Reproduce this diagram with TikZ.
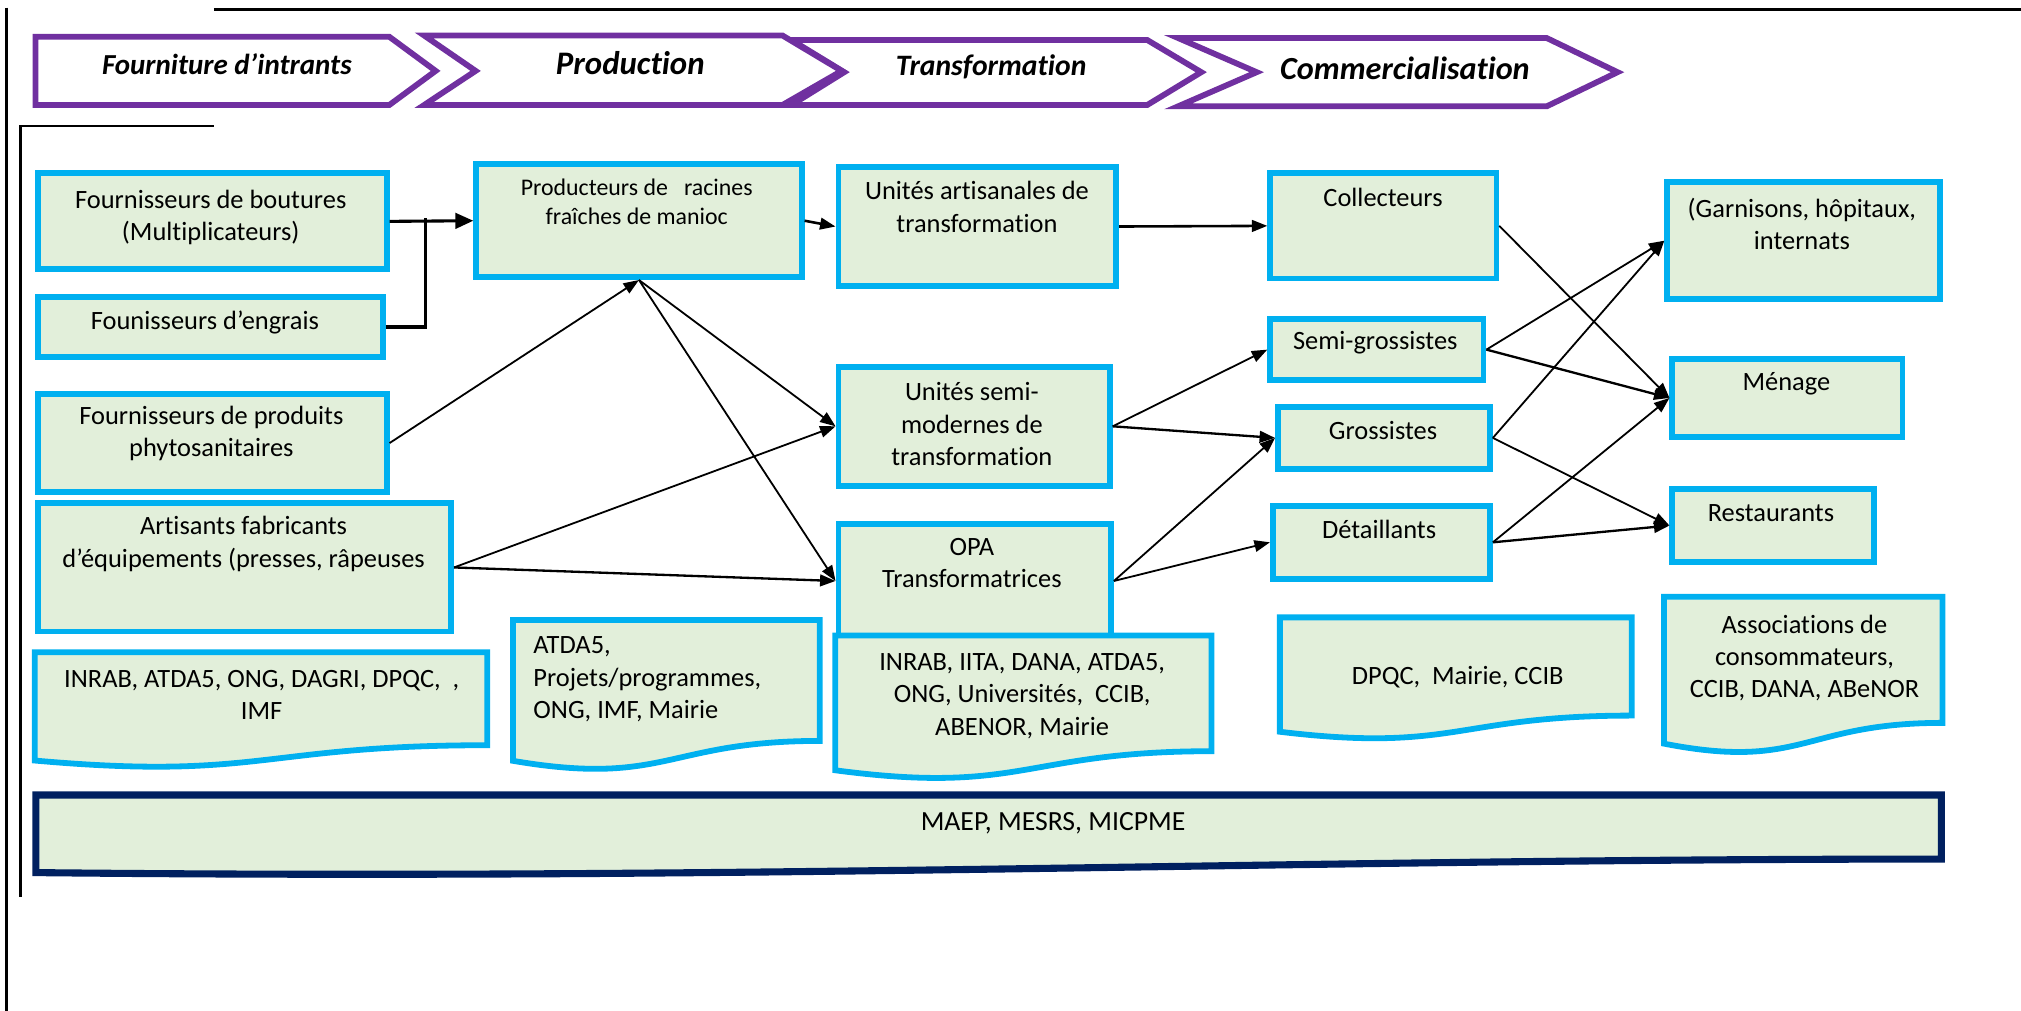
\documentclass[tikz,border=0pt]{standalone}
\usepackage{fontspec}
\setmainfont{Carlito}[RawFeature={-liga;-clig;-calt}]
\usetikzlibrary{arrows.meta}
\definecolor{cyanb}{HTML}{00B0F0}
\definecolor{greenf}{HTML}{E2EFDA}
\definecolor{purp}{HTML}{7030A0}
\definecolor{navyb}{HTML}{002060}
\newcommand\bx[5]{\node[box,anchor=north west,minimum width={(#4-#2-4.5)*1pt},minimum height={(#5-#3-4.5)*1pt}] (#1) at ({#2+2.25},{#3+2.25}) {};}
\newcommand\docsh[5]{\draw[#1] (#2,#4) -- (#3,#4) -- (#3,{#4+0.802*#5}) .. controls ({(#2+#3)/2},{#4+0.802*#5}) and ({(#2+#3)/2},{#4+1.107*#5}) .. (#2,{#4+0.934*#5}) -- cycle;}
\begin{document}
\begin{tikzpicture}[x=1pt,y=-1pt,
 box/.style={draw=cyanb,fill=greenf,line width=4.5pt,inner sep=0pt},
 docbox/.style={draw=cyanb,fill=greenf,line width=4.5pt},
 txt/.style={align=center,font=\fontsize{20.5}{25}\selectfont,inner sep=0pt},
 arr/.style={line width=1.4pt,-{Triangle[length=12pt,width=9pt]}},
 chev/.style={draw=purp,fill=white,line width=4.5pt,line join=miter},
 chevt/.style={inner sep=0pt},
 frame/.style={line width=2pt,black}]
\useasboundingbox (0,0) rectangle (1568,784);
% frames
\draw[frame] (166,7.2) -- (1568,7.2);
\draw[frame,line width=2.8pt] (5,6) -- (5,784);
\draw[frame,line width=1.8pt] (16,98) -- (166,98);
\draw[frame,line width=2.2pt] (16,97) -- (16,696);
% chevrons
\draw[chev] (614,31) -- (890,31) -- (932,56) -- (890,81.5) -- (614,81.5) -- (655,56) -- cycle;
\draw[chev] (27.5,28.5) -- (302,28.5) -- (338,55) -- (302,81.5) -- (27.5,81.5) -- cycle;
\draw[chev] (329,27.5) -- (607,27.5) -- (653,55) -- (607,81.5) -- (329,81.5) -- (369,55) -- cycle;
\draw[chev] (914,29.5) -- (1200,29.5) -- (1255,56) -- (1200,82.5) -- (914,82.5) -- (975,56) -- cycle;
\node[chevt,font=\fontsize{22.5}{27}\selectfont\bfseries\itshape] (h1) at (176,50) {Fourniture d’intrants};
\node[chevt,font=\fontsize{25.5}{27}\selectfont\bfseries\itshape] (h2) at (489,49) {Production};
\node[chevt,font=\fontsize{23}{27}\selectfont\bfseries\itshape] (h3) at (769,52) {Transformation};
\node[chevt,font=\fontsize{25}{27}\selectfont\bfseries\itshape] (h4) at (1090,53) {Commercialisation};
% boxes
\bx{b1}{25}{130}{300}{209}
\bx{b2}{25}{226}{297}{277}
\bx{b3}{25}{301}{300}{382}
\bx{b4}{25}{386}{350}{490}
\bx{p}{365}{123}{622}{215}
\bx{u1}{646}{125}{866}{222}
\bx{u2}{646}{280}{861}{377}
\bx{opa}{646}{402}{862}{495}
\bx{c}{981}{130}{1161}{216}
\bx{sg}{981}{243}{1151}{295}
\bx{gr}{987}{311}{1156}{364}
\bx{d}{983}{388}{1156}{449}
\bx{g1}{1289}{137}{1505}{232}
\bx{m}{1293}{274}{1476}{339}
\bx{r}{1293}{375}{1454}{436}
\node[txt] (b1t) at (163.5,169) {Fournisseurs de boutures\\(Multiplicateurs)};
\node[txt] (b2t) at (159,250) {Founisseurs d’engrais};
\node[txt] (b3t) at (164,336) {Fournisseurs de produits\\phytosanitaires};
\node[txt] (b4t) at (189,422) {Artisants fabricants\\d'équipements (presses, râpeuses};
\node[txt,font=\fontsize{18.5}{23}\selectfont] (pt) at (494,156.5) {Producteurs de\ \ \ racines\\fraîches de manioc};
\node[txt] (u1t) at (758,160.5) {Unités artisanales de\\transformation};
\node[txt] (u2t) at (754,329) {Unités semi-\\modernes de\\transformation};
\node[txt] (opat) at (754,437) {OPA\\Transformatrices};
\node[txt] (ct) at (1073,153) {Collecteurs};
\node[txt] (sgt) at (1067,266) {Semi-grossistes};
\node[txt] (grt) at (1073,334) {Grossistes};
\node[txt] (dt) at (1070,410.5) {Détaillants};
\node[txt] (g1t) at (1398,174) {(Garnisons, hôpitaux,\\internats};
\node[txt] (mt) at (1386,298) {Ménage};
\node[txt] (rt) at (1374,398) {Restaurants};
% documents
\docsh{docbox}{27}{378}{506}{90}
\docsh{docbox}{398}{636}{481}{117}
\docsh{docbox}{648}{940}{493}{112}
\docsh{docbox}{993}{1266}{479}{95}
\docsh{docbox}{1291}{1507}{463}{122}
\draw[draw=navyb,fill=greenf,line width=5.5pt] (27.8,616.8) -- (1506.2,616.8) -- (1506.2,666.5) .. controls (1000,666.5) and (600,683) .. (27.8,677) -- cycle;
\node[txt] (d1t) at (203,539) {INRAB, ATDA5, ONG, DAGRI, DPQC, \ ,\\IMF};
\node[txt,align=left,anchor=west] (d2t) at (413.7,527) {ATDA5,\\Projets/programmes,\\ONG, IMF, Mairie};
\node[txt] (d3t) at (793,540) {INRAB, IITA, DANA, ATDA5,\\ONG, Universités, \ CCIB,\\ABENOR, Mairie};
\node[txt] (d4t) at (1131,525) {DPQC, \ Mairie, CCIB};
\node[txt] (d5t) at (1400,510.6) {Associations de\\consommateurs,\\CCIB, DANA, ABeNOR};
\node[txt,font=\fontsize{21.5}{25}\selectfont] (mt2) at (817,638.5) {MAEP, MESRS, MICPME};
% connectors
\coordinate (j) at (330,169.5);
\draw[line width=2.6pt] (b2.east) -| (j);
\draw[arr,line width=2.4pt,-{Triangle[length=14pt,width=12pt]}] (b1.east) -- (p.west);
\draw[arr] (b3.east) -- (p.south);
\draw[arr] (p.south) -- (u2.west);
\draw[arr] (p.south) -- (opa.west);
\draw[arr] (b4.east) -- (u2.west);
\draw[arr,line width=1.8pt] (b4.east) -- (opa.west);
\draw[arr,line width=2pt] (p.east) -- (u1.west);
\draw[arr,line width=2pt] (u1.east) -- (c.west);
\draw[arr] (u2.east) -- (sg.west);
\draw[arr,line width=1.8pt] (u2.east) -- (gr.west);
\draw[arr] (opa.east) -- (gr.west);
\draw[arr] (opa.east) -- (d.west);
\draw[arr] (c.east) -- (m.west);
\draw[arr] (sg.east) -- (g1.west);
\draw[arr,line width=1.8pt] (sg.east) -- (m.west);
\draw[arr] (gr.east) -- (g1.west);
\draw[arr] (gr.east) -- (r.west);
\draw[arr] (d.east) -- (m.west);
\draw[arr,line width=1.8pt] (d.east) -- (r.west);
\end{tikzpicture}
\end{document}
